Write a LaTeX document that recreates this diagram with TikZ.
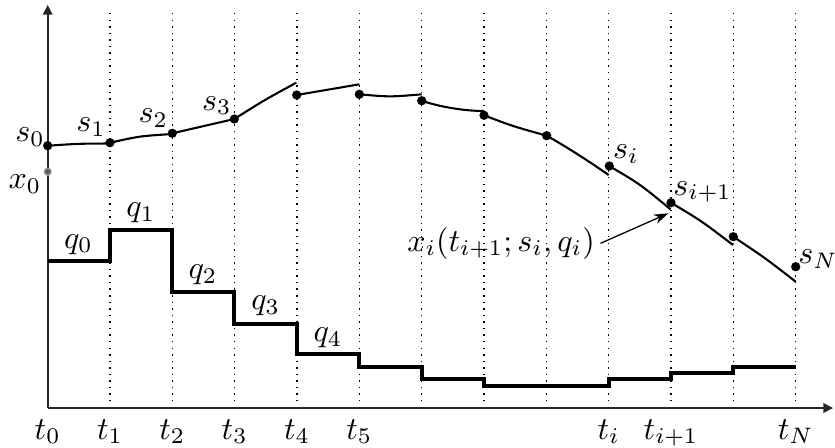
\documentclass[tikz,border=0pt]{standalone}
\usetikzlibrary{arrows.meta}
\begin{document}
\begin{tikzpicture}[x=0.3125pt,y=-0.3125pt,
  axis/.style={line width=0.5pt,draw=black!85,-{Triangle[length=3pt,width=3pt]}},
  vline/.style={line width=0.4pt,dash pattern=on 0.45pt off 1.6pt},
  stepfn/.style={line width=1.15pt},
  traj/.style={line width=0.65pt},
  dot/.style={circle,fill,inner sep=0pt,minimum size=2.9pt},
  lbl/.style={anchor=base,inner sep=0pt},
  annarrow/.style={line width=0.4pt,-{Stealth[length=4.5pt,width=3pt]}}]
\useasboundingbox (0,0) rectangle (835,447);
% grid lines
\foreach \k in {1,...,12}
  \draw[vline] ({47.7+62.33*\k},408) -- ({47.7+62.33*\k},10);
% axes
\coordinate (O) at (47.7,408);
\coordinate (ytop) at (47.7,5);
\coordinate (xend) at (833,408);
\draw[axis] (O) -- (ytop);
\draw[axis] (O) -- (xend);
% time labels
\foreach \k in {0,...,5}
  \node[lbl] (t\k) at ({47.7+62.33*\k},439) {$t_{\k}$};
\node[lbl] (ti) at ({47.7+62.33*9},439) {$t_i$};
\node[lbl] (tip) at ({47.7+62.33*10},439) {$t_{i+1}$};
\node[lbl] (tN) at ({47.7+62.33*12},439) {$t_N$};
% piecewise constant controls
\draw[stepfn] (47.7,261) -- (110,261) -- (110,230) -- (172.3,230) -- (172.3,292.3)
  -- (234.3,292.3) -- (234.3,323.7) -- (296.7,323.7) -- (296.7,354.3)
  -- (359,354.3) -- (359,367) -- (421.7,367) -- (421.7,379.3)
  -- (483.7,379.3) -- (483.7,386) -- (608.7,386) -- (608.7,379.3)
  -- (670.7,379.3) -- (670.7,372.7) -- (733.3,372.7) -- (733.3,366.7) -- (795.7,366.7);
\node[lbl] (q0) at (78.5,248) {$q_0$};
\node[lbl] (q1) at (140.8,216.7) {$q_1$};
\node[lbl] (q2) at (203,278.3) {$q_2$};
\node[lbl] (q3) at (265.7,309.3) {$q_3$};
\node[lbl] (q4) at (328,341.7) {$q_4$};
% shooting nodes
\node[dot] (s0) at (47.7,145.7) {};
\node[dot] (s1) at (110,142.7) {};
\node[dot] (s2) at (172.3,133.3) {};
\node[dot] (s3) at (234.3,119) {};
\node[dot] (s4) at (296.7,95) {};
\node[dot] (s5) at (359.3,94.3) {};
\node[dot] (s6) at (421.7,100.7) {};
\node[dot] (s7) at (484,115.3) {};
\node[dot] (s8) at (546.7,135.7) {};
\node[dot] (s9) at (609.3,166) {};
\node[dot] (s10) at (671,202.7) {};
\node[dot] (s11) at (733.3,236.7) {};
\node[dot] (s12) at (795.7,266.7) {};
\node[circle,fill=black!40,inner sep=0pt,minimum size=2.6pt] (x0halo) at (47.7,171.7) {};
\node[circle,fill=black!65,inner sep=0pt,minimum size=1.6pt] (x0) at (47.7,171.7) {};
% segment end points
\coordinate (e0) at (110,143.5);
\coordinate (e1) at (172.3,134);
\coordinate (e2) at (234.3,119);
\coordinate (e3) at (296.3,82.7);
\coordinate (e4) at (359.3,84.3);
\coordinate (e5) at (421.7,94.3);
\coordinate (e6) at (484,111);
\coordinate (e7) at (546.7,135.7);
\coordinate (e8) at (608.7,175);
\coordinate (e9) at (670.5,209.3);
\coordinate (e10) at (733,245);
\coordinate (e11) at (795.7,281.7);
% trajectory pieces
\draw[traj] (s0.center) .. controls (79,143.6) .. (e0);
\draw[traj] (s1.center) .. controls (139.6,136.1) .. (e1);
\draw[traj] (s2.center) .. controls (203.4,126.6) .. (e2);
\draw[traj] (s3.center) .. controls (264.9,99.7) .. (e3);
\draw[traj] (s4.center) .. controls (327.6,89.2) .. (e4);
\draw[traj] (s5.center) .. controls (389.9,97) .. (e5);
\draw[traj] (s6.center) .. controls (440,107) and (465,111) .. (e6);
\draw[traj] (s7.center) .. controls (512.7,126.2) .. (e7);
\draw[traj] (s8.center) .. controls (567,147) and (590,162) .. (e8);
\draw[traj] (s9.center) .. controls (640,184.1) .. (e9);
\draw[traj] (s10.center) .. controls (701.6,221) .. (e10);
\draw[traj] (s11.center) .. controls (765.2,258) .. (e11);
% labels of nodes
\node[lbl] (ls0) at (30,141.7) {$s_0$};
\node[lbl] (lx0) at (25,188.3) {$x_0$};
\node[lbl] (ls1) at (91,131.7) {$s_1$};
\node[lbl] (ls2) at (153.3,122.7) {$s_2$};
\node[lbl] (ls3) at (216.7,110) {$s_3$};
\node[lbl] (lsi) at (626,158.3) {$s_i$};
\node[lbl] (lsip) at (702.5,195) {$s_{i+1}$};
\node[lbl] (lsN) at (818,263.3) {$s_N$};
% annotation
\node[lbl] (ann) at (501,251) {$x_i(t_{i+1};s_i,q_i)$};
\coordinate (annstart) at (600.5,243.3);
\draw[annarrow] (annstart) -- (668.3,213.3);
\end{tikzpicture}
\end{document}
